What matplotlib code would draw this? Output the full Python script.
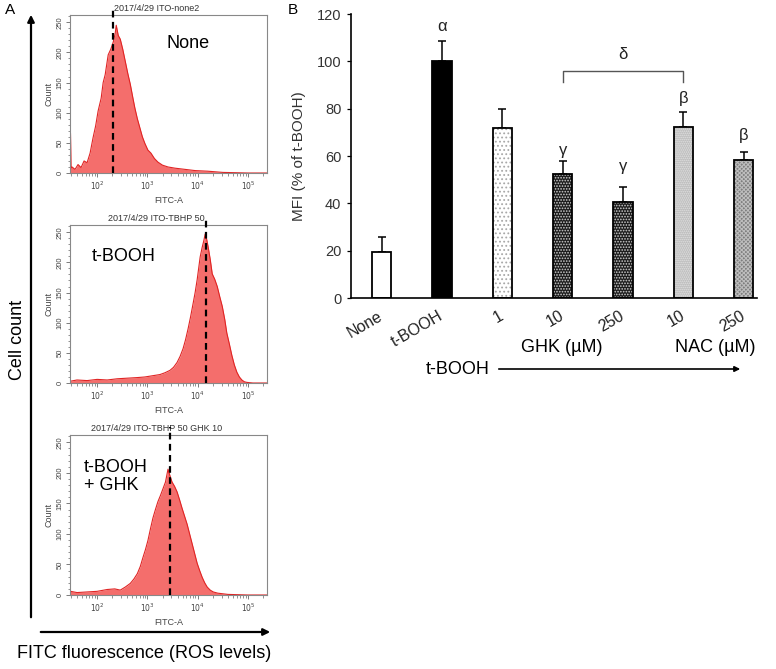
import numpy as np
import matplotlib
matplotlib.use('Agg')
import matplotlib.pyplot as plt
from matplotlib.patches import FancyArrowPatch
from matplotlib.ticker import MultipleLocator, FixedLocator

plt.rcParams['font.family'] = ['Liberation Sans', 'DejaVu Sans']
plt.rcParams['hatch.linewidth'] = 0.8

# ---- panel A: flow histograms (log10 FITC-A, count)
none_log = [1.47, 1.48, 1.50, 1.56, 1.62, 1.68, 1.74, 1.80, 1.86, 1.92, 1.97, 2.02,
            2.08, 2.12, 2.16, 2.22, 2.27, 2.32, 2.36, 2.38, 2.42, 2.46, 2.51, 2.56,
            2.61, 2.66, 2.71, 2.75, 2.80, 2.85, 2.90, 2.95, 3.01, 3.07, 3.14, 3.21,
            3.30, 3.41, 3.55, 3.75, 3.95, 4.2, 4.5, 5.0, 5.38]
none_cnt = [65, 8, 10, 6, 14, 9, 20, 17, 33, 59, 78, 103,
            124, 150, 163, 196, 205, 217, 232, 245, 228, 222, 205, 185,
            165, 147, 125, 108, 90, 75, 60, 49, 38, 33, 24, 18,
            13, 10, 8, 6, 4, 3, 1, 0, 0]

tb_log = [1.47, 1.6, 1.8, 2.0, 2.2, 2.4, 2.6, 2.8, 2.95, 3.1, 3.25, 3.35, 3.45,
          3.52, 3.59, 3.65, 3.71, 3.76, 3.81, 3.86, 3.91, 3.95, 3.99, 4.02, 4.05,
          4.09, 4.12, 4.15, 4.18, 4.21, 4.25, 4.29, 4.34, 4.39, 4.44, 4.49, 4.54,
          4.58, 4.63, 4.68, 4.73, 4.78, 4.83, 4.88, 4.93, 4.98, 5.1, 5.38]
tb_cnt = [3, 5, 4, 6, 5, 7, 8, 9, 10, 12, 14, 17, 21,
          26, 34, 44, 57, 72, 90, 110, 132, 150, 171, 190, 209,
          225, 235, 247, 238, 225, 205, 181, 172, 160, 143, 127, 105,
          83, 65, 46, 30, 18, 10, 5, 2, 1, 0, 0]

gh_log = [1.47, 1.6, 1.8, 2.0, 2.2, 2.35, 2.46, 2.56, 2.66, 2.73, 2.80, 2.86,
          2.91, 2.96, 3.01, 3.06, 3.11, 3.16, 3.21, 3.26, 3.31, 3.36, 3.41, 3.45,
          3.49, 3.54, 3.59, 3.64, 3.69, 3.74, 3.79, 3.84, 3.89, 3.94, 3.99, 4.04,
          4.09, 4.14, 4.19, 4.25, 4.31, 4.4, 4.6, 5.0, 5.38]
gh_cnt = [6, 4, 5, 6, 9, 10, 8, 13, 19, 26, 35, 47,
          61, 74, 89, 108, 126, 140, 153, 163, 174, 185, 206, 195,
          185, 178, 169, 156, 142, 129, 116, 100, 84, 68, 52, 40,
          29, 20, 13, 8, 5, 3, 1, 0, 0]

hist_titles = ['2017/4/29 ITO-none2', '2017/4/29 ITO-TBHP 50', '2017/4/29 ITO-TBHP 50 GHK 10']
hist_labels = ['None', 't-BOOH', 't-BOOH\n+ GHK']
median_log = [2.32, 4.16, 3.45]

# ---- panel B: MFI bars
groups = ['None', 't-BOOH', '1', '10', '250', '10', '250']
mfi = [19.3, 100.0, 71.9, 52.2, 40.5, 72.4, 58.1]
mfi_err = [6.5, 8.8, 8.0, 5.7, 6.5, 6.2, 3.5]
sig_marks = ['', 'α', '', 'γ', 'γ', 'β', 'β']
sig_y = [0, 114.7, 0, 62.5, 55.4, 84.3, 68.8]

W, H = 776, 669
fig = plt.figure(figsize=(W / 100, H / 100), dpi=100)


def fx(px):
    return px / W


def fy(py):
    return 1 - py / H


hist_boxes = [(15, 173), (225, 383), (435, 595)]
hist_data = [(none_log, none_cnt), (tb_log, tb_cnt), (gh_log, gh_cnt)]
label_pos = [(0.60, 0.82, 'center'), (0.27, 0.80, 'center'), (0.07, 0.74, 'left')]

for i in range(3):
    top, bot = hist_boxes[i]
    ax = fig.add_axes([fx(70), fy(bot), fx(267) - fx(70), fy(top) - fy(bot)])
    lx, cnt = hist_data[i]
    xs = 10 ** np.array(lx)
    ax.fill_between(xs, cnt, 0, color='#f46e6c', lw=0)
    ax.plot(xs, cnt, color='#e02424', lw=0.8)
    ax.set_xscale('log')
    ax.set_xlim(10 ** 1.46, 10 ** 5.38)
    ax.set_ylim(0, 262)
    ax.axvline(10 ** median_log[i], ymin=0, ymax=1.05, color='black', lw=1.6,
               dashes=(3, 2), clip_on=False, zorder=5)
    ax.xaxis.set_major_locator(FixedLocator([1e2, 1e3, 1e4, 1e5]))
    ax.set_xticklabels(['$10^2$', '$10^3$', '$10^4$', '$10^5$'])
    ax.yaxis.set_major_locator(MultipleLocator(50))
    ax.yaxis.set_minor_locator(MultipleLocator(10))
    ax.tick_params(axis='both', which='major', labelsize=5.5, length=3, width=0.6,
                   color='#666', labelcolor='#444', pad=1.5)
    ax.tick_params(axis='both', which='minor', length=1.8, width=0.5, color='#666')
    for lab in ax.get_yticklabels():
        lab.set_rotation(90)
        lab.set_va('center')
    for sp in ax.spines.values():
        sp.set_color('#888')
        sp.set_linewidth(0.8)
    ax.set_ylabel('Count', fontsize=6.5, color='#444', labelpad=2)
    ax.set_xlabel('FITC-A', fontsize=6.5, color='#444', labelpad=3)
    ax.text(0.44, 1.01, hist_titles[i], transform=ax.transAxes, ha='center', va='bottom',
            fontsize=6.5, color='#333')
    lp = label_pos[i]
    ax.text(lp[0], lp[1], hist_labels[i], transform=ax.transAxes, ha=lp[2], va='center',
            fontsize=13, linespacing=1.1)

# panel A axis arrows and labels
fig.add_artist(FancyArrowPatch((fx(31), fy(620)), (fx(31), fy(12)), transform=fig.transFigure,
                               arrowstyle='-|>', mutation_scale=10, color='black', lw=1.6))
fig.add_artist(FancyArrowPatch((fx(38), fy(632)), (fx(273), fy(632)), transform=fig.transFigure,
                               arrowstyle='-|>', mutation_scale=10, color='black', lw=1.6))
fig.text(fx(17), fy(340), 'Cell count', rotation=90, ha='center', va='center', fontsize=13)
fig.text(fx(144), fy(654), 'FITC fluorescence (ROS levels)', ha='center', va='center', fontsize=13)
fig.text(fx(10), fy(10), 'A', ha='center', va='center', fontsize=11)
fig.text(fx(293), fy(10), 'B', ha='center', va='center', fontsize=11)

# ---- panel B
axb = fig.add_axes([fx(351), fy(298), fx(757) - fx(351), fy(14) - fy(298)])
pos = np.arange(len(groups))
bw = 0.32
faces = ['white', 'black', 'white', '#1c1c1c', '#1c1c1c', '#bdbdbd', '#7e7e7e']
hatches = [None, None, '....', '......', '......', '........', 'xxxxxxxx']
hatch_cols = ['white', 'black', '#a8a8a8', '#d0d0d0', '#d0d0d0', '#e2e2e2', '#bdbdbd']

axb.errorbar(pos, mfi, yerr=[np.zeros(len(mfi)), mfi_err], fmt='none', ecolor='black',
             elinewidth=1.1, capsize=2.6, capthick=1.1, zorder=1)
for i in range(len(groups)):
    axb.bar(pos[i], mfi[i], width=bw, color=faces[i], hatch=hatches[i],
            edgecolor=hatch_cols[i], lw=0, zorder=2)
    axb.bar(pos[i], mfi[i], width=bw, fill=False, edgecolor='black', lw=1.3, zorder=3)
    if sig_marks[i]:
        axb.text(pos[i], sig_y[i], sig_marks[i], ha='center', va='center', fontsize=12,
                 color='#222')

# bracket between GHK 10 and NAC 10
axb.plot([3, 3, 5, 5], [91.4, 96, 96, 91.4], color='#555', lw=1)
axb.text(4, 102.7, 'δ', ha='center', va='center', fontsize=12, color='#222')

axb.set_xlim(-0.51, 6.22)
axb.set_ylim(0, 120)
axb.set_yticks(np.arange(0, 121, 20))
axb.set_xticks(pos)
axb.set_xticklabels(groups, rotation=30, ha='right', va='center', rotation_mode='anchor')
axb.tick_params(axis='y', labelsize=10.5, labelcolor='#333', length=3, width=0.9, pad=4)
axb.tick_params(axis='x', labelsize=11.5, labelcolor='#222', length=0, pad=12)
axb.spines['top'].set_visible(False)
axb.spines['right'].set_visible(False)
axb.spines['left'].set_linewidth(1.2)
axb.spines['bottom'].set_linewidth(1.2)
axb.set_ylabel('MFI (% of t-BOOH)', fontsize=11, color='#333', labelpad=8)

fig.text(fx(562), fy(348), 'GHK (µM)', ha='center', va='center', fontsize=13)
fig.text(fx(715), fy(348), 'NAC (µM)', ha='center', va='center', fontsize=13)
fig.text(fx(458), fy(369), 't-BOOH', ha='center', va='center', fontsize=13)
fig.add_artist(FancyArrowPatch((fx(496), fy(369)), (fx(743), fy(369)), transform=fig.transFigure,
                               arrowstyle='-|>', mutation_scale=8, color='black', lw=1.2))

fig.savefig('out.png', dpi=100)
